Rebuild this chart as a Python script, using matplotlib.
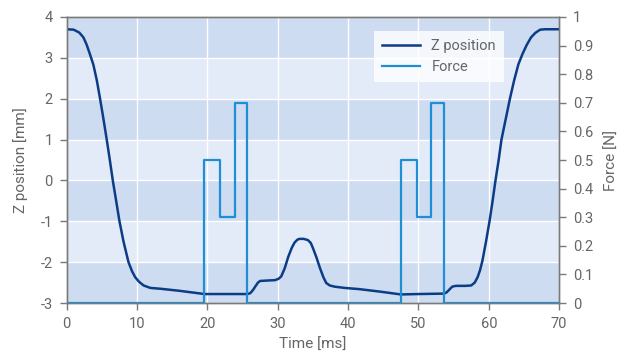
import matplotlib
matplotlib.use("Agg")
import matplotlib.pyplot as plt
from matplotlib.ticker import FuncFormatter

plt.rcParams['font.family'] = ['Roboto', 'DejaVu Sans']
plt.rcParams['axes.unicode_minus'] = False

# Z position (mm) vs time (ms)
z_time = [0, 1.0, 1.8, 2.4, 2.86, 3.3, 3.8, 4.3, 4.76, 5.2, 5.71, 6.15, 6.57, 7.0, 7.52, 8.1, 8.8,
          9.3, 9.76, 10.3, 10.95, 11.9, 13.3, 16, 19.6, 22, 25.7, 26.1, 26.5, 26.8, 27.2, 27.5, 28.5,
          29.6, 30.1, 30.5, 31.0, 31.5, 32.0, 32.4, 32.8, 33.1, 33.7, 34.3, 34.7, 35.0, 35.5, 36.0,
          36.5, 36.9, 37.4, 38.1, 39.5, 41.6, 44.5, 47.5, 50, 53.6, 54.0, 54.4, 54.8, 55.3, 55.8,
          56.7, 57.5, 58.0, 58.4, 58.75, 59.1, 59.6, 60.1, 60.5, 60.95, 61.4, 61.8, 62.4, 63.0,
          63.6, 64.2, 64.8, 65.4, 66.0, 66.6, 67.3, 68, 70]
z_pos = [3.70, 3.69, 3.62, 3.50, 3.32, 3.10, 2.84, 2.45, 2.0, 1.55, 1.0, 0.5, 0.0, -0.45, -1.0, -1.5,
         -2.0, -2.22, -2.37, -2.48, -2.57, -2.63, -2.65, -2.70, -2.78, -2.78, -2.78, -2.76, -2.68,
         -2.60, -2.50, -2.46, -2.45, -2.44, -2.41, -2.35, -2.15, -1.87, -1.65, -1.52, -1.45, -1.43,
         -1.43, -1.46, -1.53, -1.65, -1.88, -2.14, -2.37, -2.51, -2.57, -2.60, -2.63, -2.66, -2.72,
         -2.79, -2.78, -2.77, -2.74, -2.67, -2.60, -2.58, -2.58, -2.58, -2.57, -2.50, -2.37, -2.20,
         -1.96, -1.50, -1.00, -0.55, 0.0, 0.5, 1.0, 1.5, 2.0, 2.45, 2.84, 3.10, 3.32, 3.50, 3.61,
         3.69, 3.70, 3.70]

# Force (N) step profile
f_time = [0, 19.6, 21.8, 23.9, 25.7, 47.5, 49.8, 51.8, 53.7, 70]
f_val = [0, 0.5, 0.3, 0.7, 0, 0.5, 0.3, 0.7, 0, 0]

z_ticks = [-3, -2, -1, 0, 1, 2, 3, 4]
f_ticks = [0, 0.1, 0.2, 0.3, 0.4, 0.5, 0.6, 0.7, 0.8, 0.9, 1.0]
t_ticks = [0, 10, 20, 30, 40, 50, 60, 70]

dark_band = '#cddcf1'
light_band = '#e3ebf8'
z_color = '#0b3c85'
f_color = '#1e8fd5'
txt = '#666666'
spine = '#7a7a7a'

fig = plt.figure(figsize=(6.22, 3.54), dpi=100)
ax = fig.add_axes([0.107, 0.144, 0.792, 0.808])
ax.set_xlim(0, 70)
ax.set_ylim(-3, 4)

for i, lo in enumerate(range(-3, 4)):
    ax.axhspan(lo, lo + 1, color=dark_band if i % 2 == 0 else light_band, lw=0, zorder=0)
ax.set_axisbelow(True)
ax.grid(True, color='white', lw=1.0, zorder=0.5)

lz, = ax.plot(z_time, z_pos, color=z_color, lw=1.8, zorder=3, label='Z position')
ax.set_xticks(t_ticks)
ax.set_yticks(z_ticks)

ax2 = ax.twinx()
ax2.set_ylim(0, 1)
ax2.set_xlim(0, 70)
lf, = ax2.plot(f_time, f_val, drawstyle='steps-post', color=f_color, lw=1.6, zorder=3, label='Force')
ax2.set_yticks(f_ticks)
ax2.yaxis.set_major_formatter(FuncFormatter(lambda v, p: '%g' % round(v, 2)))

for a in (ax, ax2):
    for s in a.spines.values():
        s.set_color(spine)
        s.set_linewidth(1.0)
    a.tick_params(colors=spine, labelcolor=txt, labelsize=10.5, length=5, width=1,
                  direction='out', pad=5)

ax.set_xlabel('Time [ms]', color=txt, fontsize=11, labelpad=5)
ax.set_ylabel('Z position [mm]', color=txt, fontsize=11, labelpad=9)
ax2.set_ylabel('Force [N]', color=txt, fontsize=11, labelpad=8)

leg = ax2.legend(handles=[lz, lf], loc='upper right', bbox_to_anchor=(0.888, 0.95),
                 borderaxespad=0, frameon=True, fancybox=False, framealpha=0.8,
                 edgecolor='none', facecolor='white', fontsize=10.5, handlelength=2.6,
                 borderpad=0.55, labelspacing=0.45)
for t in leg.get_texts():
    t.set_color(txt)

fig.savefig('out.png', dpi=100)
